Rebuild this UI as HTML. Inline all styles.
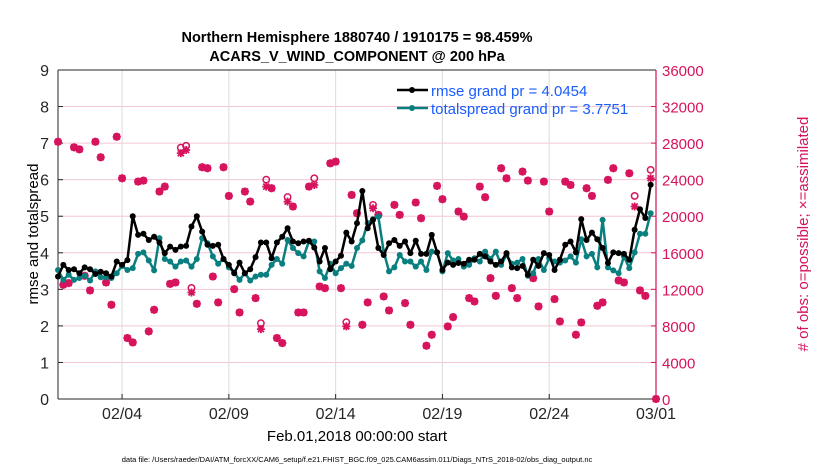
<!DOCTYPE html>
<html><head><meta charset="utf-8"><style>
body{margin:0;background:#fff;}
svg{display:block;font-family:"Liberation Sans",Arial,sans-serif;}
</style></head><body>
<svg id="chart" width="830" height="470" viewBox="0 0 830 470">
<text x="357" y="42" text-anchor="middle" font-size="14.5" font-weight="bold">Northern Hemisphere 1880740 / 1910175 = 98.459%</text>
<text x="357" y="61" text-anchor="middle" font-size="14.5" font-weight="bold">ACARS_V_WIND_COMPONENT @ 200 hPa</text>
<g id="grid"></g>
<g id="axes"></g>
<g id="obs"></g>
<g id="series"></g>
<text transform="translate(38,234) rotate(-90)" text-anchor="middle" font-size="15">rmse and totalspread</text>
<text transform="translate(808,234) rotate(-90)" text-anchor="middle" font-size="15" fill="#d6135c"># of obs: o=possible; ×=assimilated</text>
<text x="357" y="441" text-anchor="middle" font-size="15">Feb.01,2018 00:00:00 start</text>
<text x="357" y="462" text-anchor="middle" font-size="7.5">data file: /Users/raeder/DAI/ATM_forcXX/CAM6_setup/f.e21.FHIST_BGC.f09_025.CAM6assim.011/Diags_NTrS_2018-02/obs_diag_output.nc</text>
<g>
<line x1="397" y1="90" x2="428" y2="90" stroke="#000" stroke-width="2.5"/><circle cx="412" cy="90" r="3" fill="#000"/>
<text x="431" y="96" font-size="15" fill="#1a5cff">rmse grand pr = 4.0454</text>
<line x1="397" y1="108" x2="428" y2="108" stroke="#0a7f7f" stroke-width="2.5"/><circle cx="412" cy="108" r="3" fill="#0a7f7f"/>
<text x="431" y="114" font-size="15" fill="#1a5cff">totalspread grand pr = 3.7751</text>
</g>
</svg>
<script>
const rmse=[3.35,3.67,3.53,3.55,3.44,3.6,3.55,3.42,3.48,3.44,3.35,3.76,3.67,3.8,5.0,4.49,4.52,4.35,4.44,4.28,3.99,4.17,4.08,4.17,4.19,4.72,5.0,4.58,4.22,4.19,4.22,3.83,3.67,3.44,3.73,3.44,3.55,3.88,4.28,4.28,3.85,4.28,4.44,4.67,4.31,4.26,4.31,4.33,4.14,3.76,4.13,3.55,3.76,3.92,4.55,4.31,4.81,5.69,4.67,4.9,4.13,3.94,4.26,4.35,4.19,4.31,3.99,4.33,3.97,3.97,4.49,4.01,3.53,3.73,3.67,3.72,3.7,3.81,3.81,3.97,3.9,3.76,3.67,3.76,3.99,3.6,3.58,3.64,3.4,3.81,3.64,3.99,3.94,3.53,3.81,4.22,4.31,4.01,4.92,4.35,4.55,4.37,4.13,3.72,4.01,3.99,3.97,3.81,4.63,5.19,4.95,5.86];
const spread=[3.53,3.26,3.4,3.26,3.31,3.37,3.24,3.49,3.33,3.33,3.31,3.44,3.64,3.53,3.58,3.97,4.01,3.79,3.52,4.4,3.83,3.76,3.62,3.76,3.79,3.62,3.83,4.4,4.26,3.9,3.7,3.83,3.6,3.46,3.26,3.44,3.24,3.35,3.4,3.4,3.67,3.83,3.7,4.35,4.13,3.99,3.9,4.31,4.31,3.49,3.31,3.7,3.44,3.58,3.7,3.64,4.13,4.34,4.81,4.92,4.99,4.03,3.49,3.6,3.94,3.76,3.76,3.62,3.76,3.53,4.03,4.01,3.49,3.99,3.79,3.83,3.62,3.67,3.85,3.76,4.03,3.83,4.03,3.67,3.94,3.7,3.73,3.83,3.37,3.44,3.83,3.53,3.85,3.76,3.73,3.79,3.9,3.73,4.37,3.9,3.97,3.6,4.9,3.6,3.52,3.44,3.9,3.58,4.01,4.52,4.52,5.08];
const obsAssim=[28150,12500,12680,27540,27320,13480,11880,28150,26450,12750,10310,28700,24150,6670,6190,23790,23900,7400,9760,22700,23240,12600,12750,26890,27250,11660,10420,25360,25250,13400,10570,25360,22220,12020,9470,22700,21600,11040,7650,23240,23060,6670,6120,21600,21060,9470,9470,23240,23420,12310,12130,25790,25970,12130,7940,22330,20330,8120,10570,20870,20150,11220,9690,21240,20150,10490,8120,21500,19780,5830,7030,23320,21860,7940,8960,20510,19960,11040,10670,23240,22080,13220,11290,25250,24150,12130,11040,24880,23900,13220,10130,23790,20510,10930,8490,23790,23420,7030,8380,23060,22220,10200,10570,23980,25250,12970,12750,24700,21060,11880,11290,24150,0];
const obsPossible=[28150,12500,12680,27540,27320,13480,11880,28150,26450,12750,10310,28700,24150,6670,6190,23790,23900,7400,9760,22700,23240,12600,12750,27500,27700,12150,10420,25360,25250,13400,10570,25360,22220,12020,9470,22700,21600,11040,8300,24000,23060,6670,6120,22100,21060,9470,9470,23240,24150,12310,12130,25790,25970,12130,8400,22330,20330,8120,10570,21240,20150,11220,9690,21240,20150,10490,8120,21500,19780,5830,7030,23320,21860,7940,8960,20510,19960,11040,10670,23240,22080,13220,11290,25250,24150,12130,11040,24880,23900,13220,10130,23790,20510,10930,8490,23790,23420,7030,8380,23060,22220,10200,10570,23980,25250,12970,12750,24700,22220,11880,11290,25070,0];
const leftTicks=[0,1,2,3,4,5,6,7,8,9];
const rightTicks=[0,4000,8000,12000,16000,20000,24000,28000,32000,36000];
const xTickDays=[3,8,13,18,23,28];
const xTickLabels=["02/04","02/09","02/14","02/19","02/24","03/01"];

const NS="http://www.w3.org/2000/svg";
const X0=58,X1=656,Y0=399,Y1=70;
const xScale=d=>X0+(X1-X0)*d/28;
const yL=v=>Y0-(Y0-Y1)*v/9;
const yR=v=>Y0-(Y0-Y1)*v/36000;
const dayOf=i=>i*0.25;
function mk(tag,attrs,parent){const e=document.createElementNS(NS,tag);for(const k in attrs)e.setAttribute(k,attrs[k]);parent.appendChild(e);return e;}
const grid=document.getElementById('grid'),axes=document.getElementById('axes'),obs=document.getElementById('obs'),ser=document.getElementById('series');
leftTicks.forEach(t=>{
  if(t>0&&t<9){const g=mk('line',{x1:X0,x2:X1,y1:yL(t),y2:yL(t),stroke:'#f3c6d6','stroke-width':1},grid);
  
  }
  const tx=mk('text',{x:X0-9,y:yL(t)+6,'text-anchor':'end','font-size':16,fill:'#262626'},axes);tx.textContent=t;
  
  
  mk('line',{x1:X0,x2:X0+5,y1:yL(t),y2:yL(t),stroke:'#262626'},axes);
});
rightTicks.forEach(t=>{
  const tx=mk('text',{x:X1+6,y:yR(t)+6,'font-size':15,fill:'#d6135c'},axes);tx.textContent=t;
  
  
  mk('line',{x1:X1-5,x2:X1,y1:yR(t),y2:yR(t),stroke:'#d6135c'},axes);
});
xTickDays.forEach((d,k)=>{
  const x=xScale(d);
  if(d<28){const g=mk('line',{x1:x,x2:x,y1:Y1,y2:Y0,stroke:'#dcdcdc','stroke-width':1},grid);
  
  }
  mk('line',{x1:x,x2:x,y1:Y0,y2:Y0-5,stroke:'#262626'},axes);
  const tx=mk('text',{x:x,y:Y0+20,'text-anchor':'middle','font-size':16,fill:'#262626'},axes);tx.textContent=xTickLabels[k];
  
  
});
mk('line',{x1:X0,x2:X1,y1:Y1,y2:Y1,stroke:'#262626','stroke-width':1},axes);
mk('line',{x1:X0,x2:X1,y1:Y0,y2:Y0,stroke:'#262626','stroke-width':1},axes);
mk('line',{x1:X0,x2:X0,y1:Y1,y2:Y0,stroke:'#262626','stroke-width':1},axes);
mk('line',{x1:X1,x2:X1,y1:Y1,y2:Y0,stroke:'#d6135c','stroke-width':1.2},axes);
// obs markers
obsPossible.forEach((v,i)=>{
  const c=mk('circle',{cx:xScale(dayOf(i)),cy:yR(v),r:3.2,fill:'none',stroke:'#d6135c','stroke-width':1.5},obs);
  
  
});
obsAssim.forEach((v,i)=>{
  const x=xScale(dayOf(i)),y=yR(v);
  const p=mk('path',{d:`M${x-4},${y}H${x+4}M${x},${y-4}V${y+4}M${x-3},${y-3}L${x+3},${y+3}M${x-3},${y+3}L${x+3},${y-3}`,stroke:'#d6135c','stroke-width':1.8},obs);
  
  
});
function series(arr,color,name){
  const pl=mk('polyline',{points:arr.map((v,i)=>xScale(dayOf(i))+','+yL(v)).join(' '),fill:'none',stroke:color,'stroke-width':2.5,'stroke-linejoin':'round'},ser);
  
  
  arr.forEach((v,i)=>{
    const c=mk('circle',{cx:xScale(dayOf(i)),cy:yL(v),r:3,fill:color},ser);
    
    
  });
}
series(spread,'#0a7f7f','totalspread');
series(rmse,'#000000','rmse');
</script>
</body></html>
